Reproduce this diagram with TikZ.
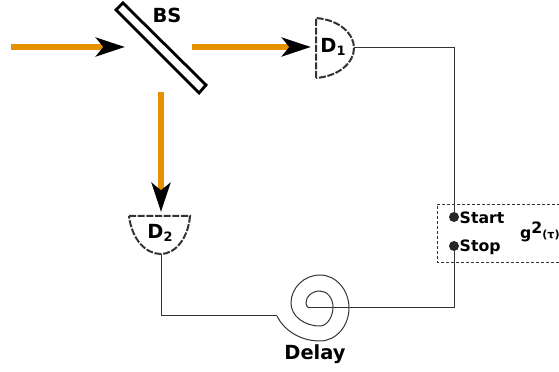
\documentclass[tikz,border=0pt]{standalone}
\usepackage{fontspec}
\setmainfont{DejaVu Sans}
\usetikzlibrary{arrows.meta}
\definecolor{beamcol}{HTML}{E69200}
\tikzset{
  beam/.style  ={draw=beamcol, line width=1.9mm,
                 -{Stealth[length=8.7mm, width=5.6mm, inset=2.2mm, black]}},
  wire/.style  ={draw=black!80, line width=0.3mm},
  detect/.style={draw=black!80, line width=0.6mm, dash pattern=on 2.1mm off 0.5mm},
  plate/.style ={draw=black, line width=0.85mm, fill=white},
  lbl/.style   ={font=\fontsize{16.6}{18}\bfseries\selectfont, inner sep=0pt},
  slbl/.style  ={font=\fontsize{13.4}{15}\bfseries\selectfont, inner sep=0pt, anchor=west},
  pin/.style   ={circle, fill=black!85, inner sep=0pt, minimum size=3mm}
}
\newcommand{\detsub}[1]{\raisebox{-0.35ex}{\fontsize{11}{12}\selectfont #1}}

\begin{document}
\begin{tikzpicture}[x=0.3mm,y=-0.3mm]
\useasboundingbox (0,0) rectangle (559,372);
%% beam splitter and the three beam ends
\draw[plate] (123,3) -- (116,10) -- (199,93) -- (206,85) -- cycle;
\node[lbl] (bs) at (167,15) {BS};
\coordinate (inL)   at (11,47);
\coordinate (inR)   at (125,47);
\coordinate (outR)  at (192,47);
\coordinate (outD)  at (161,92);
\coordinate (tipR)  at (311,47);
\coordinate (tipD)  at (161,212);

%% detectors
\coordinate (d1top) at (316,18);
\coordinate (d1bot) at (316,78);
\coordinate (d1out) at (354,48);
\coordinate (d2lft) at (129,216);
\coordinate (d2rgt) at (190,216);
\coordinate (d2out) at (161,254);
\draw[detect] (d1bot) -- (d1top) .. controls (340,20) and (354,34) .. (d1out)
              .. controls (354,62) and (340,76) .. (d1bot);
\draw[detect] (d2lft) -- (d2rgt) .. controls (188,240) and (174,254) .. (d2out)
              .. controls (146,254) and (132,240) .. (d2lft);
\node[lbl] (d1) at (333,47) {D\detsub{1}};
\node[lbl] (d2) at (160,233) {D\detsub{2}};

\draw[beam] (inL)  -- (inR);
\draw[beam] (outR) -- (tipR);
\draw[beam] (outD) -- (tipD);

%% correlator box, open at the page edge
\draw[draw=black!80, line width=0.28mm, dash pattern=on 1mm off 0.5mm]
  (565,204) -- (437,204) -- (437,262) -- (565,262);
\node[pin] (start) at (454,217) {};
\node[pin] (stop)  at (454,246) {};
\node[slbl] (startl) at (459.5,218) {Start};
\node[slbl] (stopl)  at (459.5,247) {Stop};
\node[slbl] (gtau)   at (520,232) {g\raisebox{0.6ex}{2}{\fontsize{9.5}{11}\selectfont(τ)}};

%% delay line
\coordinate (coilin)  at (277,316);
\coordinate (coilend) at (309,308);
\draw[wire] (d1out) -| (start);
\draw[wire] (stop) |- (coilend);
\draw[wire] (d2out) |- (coilin);
\draw[wire] (coilin) .. controls (285,332) and (302,341) .. (320,341)
  .. controls (336,341) and (349,326) .. (349,308)
  .. controls (349,290) and (336,275) .. (320,275)
  .. controls (304,275) and (291,288) .. (291,303)
  .. controls (291,316) and (304,326) .. (320,326)
  .. controls (327,326) and (333,317) .. (333,307)
  .. controls (333,298) and (327,291) .. (320,291)
  .. controls (312,291) and (306,296) .. (306,303)
  .. controls (306,305) and (307,307) .. (coilend);
\node[lbl] (delay) at (315,354) {Delay};
\end{tikzpicture}
\end{document}
